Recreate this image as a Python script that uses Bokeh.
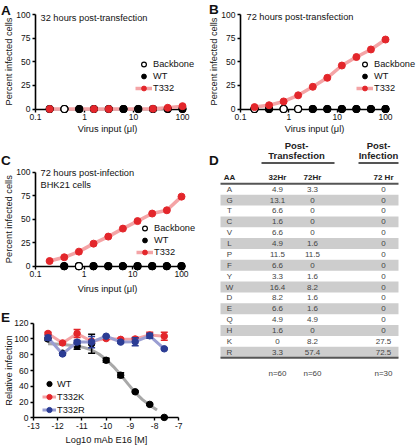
import math
from bokeh.plotting import figure
from bokeh.models import (LinearAxis, LogAxis, FixedTicker, CustomJSTickFormatter,
                          Range1d, Label, Legend, LegendItem)
from bokeh.layouts import row, column
from bokeh.embed import file_html
from bokeh.resources import INLINE
from bokeh.core.properties import value

FONT = "Liberation Sans"
RED = "#e3262b"
PINK = "#f4a4a6"
BLUE = "#2b3c94"
LBLUE = "#9a9ed2"
GRAY = "#a8a8a8"
NAN = float("nan")

# ---------------- data ----------------
virus_input = [0.195, 0.39, 0.78, 1.56, 3.13, 6.25, 12.5, 25, 50, 100]

a_backbone = [0, 0, 0, 0, 0, 0, 0, 0, 0, 0]
a_wt = [0, 0, 0, 0, 0, 0, 0, 0, 0, 0]
a_t332 = [0, 0, 0, 0, 0, 0, 0, 0.3, 1.3, 3.0]
a_top = ["T", "B", "W", "T", "T", "W", "W", "T", "T", "T"]

b_backbone = [0, 0, 0, 0, 0, 0, 0, 0, 0, 0]
b_wt = [0, 0, 0, 0, 0, 0, 0, 0, 0, 0]
b_t332 = [2, 4, 8, 14.5, 23.5, 33, 46, 55, 63, 73.5]
b_top = ["B", "W", "B", "B", "W", "W", "W", "W", "W", "W"]

c_backbone = [NAN, 0, 0, 0, 0, 0, 0, 0, 0, 0]
c_wt = [NAN, 0, 0, 0, 0, 0, 0, 0, 0, 0]
c_t332 = [5.5, 9.5, 15.5, 24, 31.5, 40, 48, 56, 59.5, 74]
c_top = ["-", "W", "B", "W", "W", "W", "W", "W", "W", "W"]

series_names = ["Backbone", "WT", "T332"]

log_mab = [-12.4, -11.8, -11.2, -10.6, -10.0, -9.4, -8.8, -8.2, -7.6]
e_wt = [100, 82, 91, 94, 73, 54, 33, 17, 0.5]
e_wt_err = [2, 2, 4, 12, 2.5, 3, 1, 1, 0.5]
e_k = [107, 95, 107, 97, 100.5, 99.5, 100, 105, 103.5]
e_k_err = [1.5, 1, 5, 2, 1, 1, 2, 3.5, 5]
e_r = [101.5, 81, 96, 96, 103.5, 96, 96.5, 104, 87.5]
e_r_err = [3, 1.5, 2, 7, 1, 1.5, 5, 3, 1]
fit_x = [-12.4, -12.1, -11.8, -11.5, -11.2, -10.9, -10.6, -10.3, -10.0, -9.7,
         -9.4, -9.1, -8.8, -8.5, -8.2, -7.9]
fit_y = [94, 93.5, 93, 92, 91, 89, 86, 81, 74, 65, 54.5, 43, 32, 23, 16, 10]
e_names = ["WT", "T332K", "T332R"]

aa = ["A", "G", "T", "C", "V", "L", "P", "F", "Y", "W", "D", "E", "Q", "H", "K", "R"]
tr_32hr = [4.9, 13.1, 6.6, 1.6, 6.6, 4.9, 11.5, 6.6, 3.3, 16.4, 8.2, 6.6, 4.9, 1.6, 0, 3.3]
tr_72hr = [3.3, 0, 0, 0, 0, 1.6, 11.5, 0, 1.6, 8.2, 1.6, 1.6, 4.9, 0, 8.2, 57.4]
inf_72hr = [0, 0, 0, 0, 0, 0, 0, 0, 0, 0, 0, 0, 0, 0, 27.5, 72.5]
n_counts = ["n=60", "n=60", "n=30"]
col_headers = ["AA", "32Hr", "72Hr", "72 Hr"]
group_headers = ["Post-", "Transfection", "Post-", "Infection"]


# ---------------- helpers ----------------
class Frame:
    """Maps screen pixel anchors to data ranges for a figure whose frame fills it."""
    def __init__(self, ox, oy, w, h, xa, ya, xlog=False):
        self.ox, self.oy, self.w, self.h, self.xlog = ox, oy, w, h, xlog
        f = math.log10 if xlog else (lambda v: v)
        v1, p1, v2, p2 = xa
        p1 -= ox
        p2 -= ox
        self.kx = (p2 - p1) / (f(v2) - f(v1))
        self.x0 = f(v1) - p1 / self.kx
        v1, p1, v2, p2 = ya
        p1 -= oy
        p2 -= oy
        self.ky = (p1 - p2) / (v2 - v1)
        self.y0 = v1 + p1 / self.ky

    def X(self, sx):
        v = self.x0 + (sx - self.ox) / self.kx
        return 10 ** v if self.xlog else v

    def Y(self, sy):
        return self.y0 - (sy - self.oy) / self.ky

    def xrange(self):
        return Range1d(self.X(self.ox), self.X(self.ox + self.w))

    def yrange(self):
        return Range1d(self.Y(self.oy + self.h), self.Y(self.oy))


def base_fig(fr):
    p = figure(width=fr.w, height=fr.h, x_range=fr.xrange(), y_range=fr.yrange(),
               x_axis_type="log" if fr.xlog else "linear",
               x_axis_location=None, y_axis_location=None,
               toolbar_location=None, output_backend="svg", tools="",
               min_border=0, outline_line_color=None,
               border_fill_color="white", background_fill_color="white")
    p.grid.visible = False
    return p


def add_axes(p, xlog, xfix, xb, xt, yfix, yb, yt):
    XA = LogAxis if xlog else LinearAxis
    xa = XA(fixed_location=xfix, bounds=xb, ticker=FixedTicker(ticks=xt, minor_ticks=[]),
            formatter=CustomJSTickFormatter(code="return tick.toString();"))
    ya = LinearAxis(fixed_location=yfix, bounds=yb, ticker=FixedTicker(ticks=yt, minor_ticks=[]),
                    formatter=CustomJSTickFormatter(code="return tick.toString();"))
    for ax in (xa, ya):
        ax.level = "underlay"
        ax.axis_line_width = 1.6
        ax.axis_line_color = "black"
        ax.major_tick_line_width = 1.4
        ax.major_tick_out = 3
        ax.major_tick_in = 0
        ax.minor_tick_line_color = None
        ax.major_label_text_font = FONT
        ax.major_label_text_font_size = "8.5px"
        ax.major_label_text_color = "#111111"
        ax.major_label_standoff = 2
    p.add_layout(xa, "below")
    p.add_layout(ya, "left")


def add_label(p, fr, sx, sy, text, size="9.25px", bold=False, baseline="middle",
              align="left", angle=0.0):
    p.add_layout(Label(x=fr.X(sx), y=fr.Y(sy), text=text, text_font=FONT,
                       text_font_size=size, text_font_style="bold" if bold else "normal",
                       text_align=align, text_baseline=baseline, text_color="#111111",
                       angle=angle))


def axis_titles(p, fr, xtitle, xpos, ytitle, ypos):
    add_label(p, fr, xpos[0], xpos[1], xtitle, align="center")
    add_label(p, fr, ypos[0], ypos[1], ytitle, align="center", angle=math.pi / 2)


def add_legend(p, fr, items, sx_left, sy_top, row_h, glyph_w):
    n = len(items)
    lg = Legend(items=items,
                location=(int(round(sx_left - fr.ox)), int(round(fr.h - (sy_top - fr.oy) - n * row_h))),
                border_line_color=None, background_fill_alpha=0,
                padding=0, margin=0, spacing=0,
                glyph_width=glyph_w, glyph_height=row_h, label_height=row_h,
                label_standoff=1, label_text_font=FONT, label_text_font_size="9.25px",
                label_text_baseline="middle", label_text_color="#111111")
    p.add_layout(lg)


def growth_panel(fr, x, bb, wt, t3, top, titles, xt_pos, yt_pos, leg_left, leg_top,
                 letter, letter_pos):
    p = base_fig(fr)
    add_axes(p, True, 0, (0.1, 100), [0.1, 1, 10, 100], 0.1, (0, 100), [0, 25, 50, 75, 100])
    axis_titles(p, fr, "Virus input (\u03bcl)", xt_pos, "Percent infected cells", yt_pos)
    r_line = p.line(x, t3, line_color=PINK, line_width=3.5)
    bb_style = dict(size=7, fill_color="white", line_color="black", line_width=1.2)
    wt_style = dict(size=7, fill_color="black", line_color="black", line_width=1)
    r_bb = p.scatter(x, bb, **bb_style)
    r_wt = p.scatter(x, wt, **wt_style)
    ib = [i for i, t in enumerate(top) if t == "B"]
    iw = [i for i, t in enumerate(top) if t == "W"]
    p.scatter([x[i] for i in ib], [bb[i] for i in ib], **bb_style)
    p.scatter([x[i] for i in iw], [wt[i] for i in iw], **wt_style)
    it = [i for i, t in enumerate(top) if t in ("T", "-") or t3[i] > 0.5]
    r_t = p.scatter([x[i] for i in it], [t3[i] for i in it], size=7,
                    fill_color=RED, line_color=RED, line_width=1)
    for sx, sy, txt in titles:
        add_label(p, fr, sx, sy, txt)
    items = [LegendItem(label=series_names[0], renderers=[r_bb]),
             LegendItem(label=series_names[1], renderers=[r_wt]),
             LegendItem(label=series_names[2], renderers=[r_line, r_t])]
    add_legend(p, fr, items, leg_left, leg_top, 12, 17)
    add_label(p, fr, letter_pos[0], letter_pos[1], letter, size="13.5px", bold=True,
              baseline="alphabetic")
    return p


# ---------------- panels A, B, C ----------------
frA = Frame(0, 0, 208, 140, (0.1, 35, 100, 182), (0, 108.5, 100, 14), xlog=True)
pA = growth_panel(frA, virus_input, a_backbone, a_wt, a_t332, a_top,
                  [(40, 17, "32 hours post-transfection")], (107, 128), (8, 61),
                  135, 58.5, "A", (0.5, 9.5))

frB = Frame(208, 0, 208, 140, (0.1, 240, 100, 385), (0, 108.5, 100, 14), xlog=True)
pB = growth_panel(frB, virus_input, b_backbone, b_wt, b_t332, b_top,
                  [(246, 16.5, "72 hours post-transfection")], (314, 128), (213, 61),
                  356, 58.5, "B", (208.5, 9))

frC = Frame(0, 140, 208, 158, (0.1, 35, 100, 181), (0, 265.7, 100, 171.7), xlog=True)
pC = growth_panel(frC, virus_input, c_backbone, c_wt, c_t332, c_top,
                  [(40, 172.7, "72 hours post-infection"), (40, 184.3, "BHK21 cells")],
                  (107, 288), (8, 218.7), 135.5, 222, "C", (0.5, 160))

# ---------------- panel E ----------------
frE = Frame(0, 298, 208, 148, (-13, 33, -7, 178.3), (0, 417.3, 120, 322.7))
pE = base_fig(frE)
add_axes(pE, False, 0, (-13, -7), list(range(-13, -6)),
         -13, (0, 120), [0, 20, 40, 60, 80, 100, 120])
axis_titles(pE, frE, "Log10 mAb E16 [M]", (106, 439), "Relative infection", (8, 370))
pE.line(fit_x, fit_y, line_color=GRAY, line_width=3)


def err_series(p, x, m, e, color, line_color=None):
    lo = [a - b for a, b in zip(m, e)]
    hi = [a + b for a, b in zip(m, e)]
    rl = None
    if line_color:
        rl = p.line(x, m, line_color=line_color, line_width=3)
    p.segment(x, lo, x, hi, line_color=color, line_width=1.5)
    p.scatter(x, lo, marker="dash", size=7, line_color=color, line_width=1.5)
    p.scatter(x, hi, marker="dash", size=7, line_color=color, line_width=1.5)
    rm = p.scatter(x, m, size=6.5, fill_color=color, line_color=color)
    return rl, rm


_, e_wt_m = err_series(pE, log_mab, e_wt, e_wt_err, "black")
k_l, k_m = err_series(pE, log_mab, e_k, e_k_err, RED, PINK)
r_l, r_m = err_series(pE, log_mab, e_r, e_r_err, BLUE, LBLUE)
add_legend(pE, frE, [LegendItem(label=e_names[0], renderers=[e_wt_m]),
                     LegendItem(label=e_names[1], renderers=[k_l, k_m]),
                     LegendItem(label=e_names[2], renderers=[r_l, r_m])],
           42, 376.5, 13, 14)
add_label(pE, frE, 0.5, 317, "E", size="13.5px", bold=True, baseline="alphabetic")

# ---------------- panel D (table) ----------------
frD = Frame(208, 140, 208, 306, (0, 208, 208, 416), (0, 140, 306, 446))
pD = base_fig(frD)
X, Y = frD.X, frD.Y
row0, rh = 188.7, 10.87
band_l, band_r = 220, 398
col_x = [229, 277, 312, 383]
nrow = len(aa)
odd = [i for i in range(nrow) if i % 2 == 1]
pD.quad(left=[X(band_l)] * len(odd), right=[X(band_r)] * len(odd),
        top=[Y(row0 + i * rh - rh / 2) for i in odd],
        bottom=[Y(row0 + i * rh + rh / 2) for i in odd],
        fill_color="#cdcdcd", line_color=None)
pD.segment(x0=[X(band_l), X(band_l), X(261), X(358)],
           y0=[Y(row0 - rh / 2), Y(row0 + (nrow - 0.5) * rh), Y(162.5), Y(162.5)],
           x1=[X(band_r), X(band_r), X(334), X(398)],
           y1=[Y(row0 - rh / 2), Y(row0 + (nrow - 0.5) * rh), Y(162.5), Y(162.5)],
           line_color="#555555", line_width=2)

txt_common = dict(text_align="center", text_baseline="middle", text_font=value(FONT))
pD.text(x=[X(296), X(296), X(378), X(378)], y=[Y(144.5), Y(155), Y(144.5), Y(155)],
        text=group_headers,
        text_font_size="9.5px", text_font_style="bold", text_color="#222222", **txt_common)
pD.text(x=[X(c) for c in col_x], y=[Y(177)] * 4, text=col_headers,
        text_font_size="8px", text_font_style="bold", text_color="#222222", **txt_common)
rows_y = [Y(row0 + i * rh) for i in range(nrow)]
for cx, vals in zip(col_x, [aa, tr_32hr, tr_72hr, inf_72hr]):
    pD.text(x=[X(cx)] * nrow, y=rows_y,
            text=[v if isinstance(v, str) else f"{v:g}" for v in vals],
            text_font_size="8px", text_color="#444444", **txt_common)
pD.text(x=[X(c) for c in col_x[1:]], y=[Y(373)] * 3, text=n_counts,
        text_font_size="8px", text_color="#444444", **txt_common)
add_label(pD, frD, 208.5, 159.5, "D", size="13.5px", bold=True, baseline="alphabetic")

layout = column(row(pA, pB), row(column(pC, pE), pD))
open("out.html", "w").write(file_html(layout, INLINE))
